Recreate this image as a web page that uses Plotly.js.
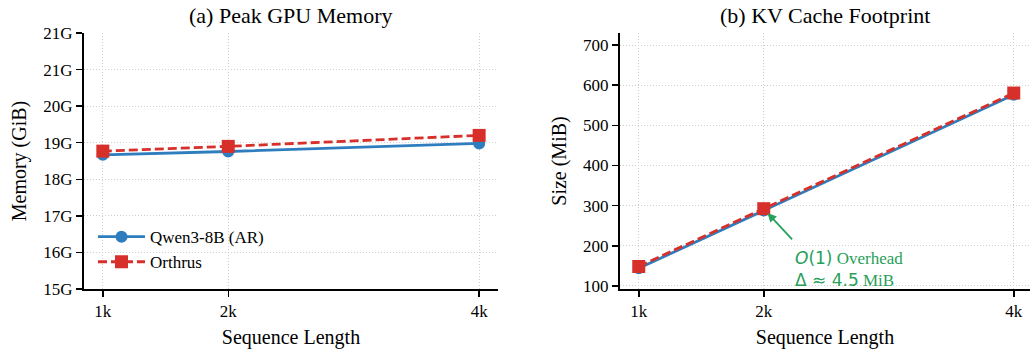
<!DOCTYPE html>
<html>
<head>
<meta charset="utf-8">
<script src="https://cdn.plot.ly/plotly-3.0.1.min.js"></script>
<style>html,body{margin:0;padding:0;background:#fff;}#chart{width:1030px;height:356px;}</style>
</head>
<body>
<div id="chart"></div>
<script>
// ---- data ----
const seqLen = [1, 2, 4];
const seqLabels = ["1k", "2k", "4k"];
const memQwen = [18.67, 18.76, 18.98];
const memOrthrus = [18.77, 18.90, 19.20];
const kvQwen = [144, 288, 576];
const kvOrthrus = [148.5, 292.5, 580.5];
const memTickVals = [15, 16, 17, 18, 19, 20, 21, 22];
const memTickText = ["15G", "16G", "17G", "18G", "19G", "20G", "21G", "21G"];
const kvTickVals = [100, 200, 300, 400, 500, 600, 700];
const seriesNames = ["Qwen3-8B (AR)", "Orthrus"];

const BLUE = "#2e7ebf", RED = "#d7302a", GREEN = "#27a05a";
const serif = "Liberation Serif, Times New Roman, serif";

function tr(x, y, name, color, sym, dash, xa, ya, show) {
  return {
    x: x, y: y, name: name, type: "scatter", mode: "lines+markers",
    line: {color: color, width: 2.8, dash: dash},
    marker: {color: color, symbol: sym, size: sym === "square" ? 13 : 12, line: {width: 0}},
    xaxis: xa, yaxis: ya, showlegend: show
  };
}

const data = [
  tr(seqLen, memQwen, seriesNames[0], BLUE, "circle", "solid", "x", "y", true),
  tr(seqLen, memOrthrus, seriesNames[1], RED, "square", "9px,4px", "x", "y", true),
  tr(seqLen, kvQwen, seriesNames[0], BLUE, "circle", "solid", "x2", "y2", false),
  tr(seqLen, kvOrthrus, seriesNames[1], RED, "square", "9px,4px", "x2", "y2", false)
];

const axFont = {family: serif, size: 17, color: "#000"};
const GRID = "#cfcfcf";
const baseX = {
  tickvals: seqLen, ticktext: seqLabels, tickfont: axFont,
  ticks: "outside", ticklen: 6, tickwidth: 1.5, tickcolor: "#000",
  showline: true, linecolor: "#000", linewidth: 2,
  showgrid: true, gridcolor: GRID, griddash: "1px,2px", gridwidth: 1,
  zeroline: false, fixedrange: true,
  title: {text: "Sequence Length", font: {family: serif, size: 20, color: "#000"}, standoff: 10}
};
const baseY = {
  tickfont: axFont,
  ticks: "outside", ticklen: 6, tickwidth: 1.5, tickcolor: "#000",
  showline: true, linecolor: "#000", linewidth: 2,
  showgrid: true, gridcolor: GRID, griddash: "1px,2px", gridwidth: 1,
  zeroline: false, fixedrange: true
};

const layout = {
  width: 1030, height: 356,
  margin: {l: 84, r: 0, t: 33, b: 67},
  paper_bgcolor: "#fff", plot_bgcolor: "#fff",
  showlegend: true,
  legend: {
    x: 0.0095, y: 0.273, xanchor: "left", yanchor: "top",
    font: {family: serif, size: 17, color: "#000"},
    bgcolor: "rgba(0,0,0,0)", tracegroupgap: 0, itemwidth: 47
  },
  xaxis: Object.assign({}, baseX, {domain: [0, 0.4376], range: [0.85, 4.15], anchor: "y"}),
  yaxis: Object.assign({}, baseY, {
    domain: [0, 1], range: [15, 22], tickvals: memTickVals, ticktext: memTickText, anchor: "x",
    title: {text: "Memory (GiB)", font: {family: serif, size: 20, color: "#000"}, standoff: 11}
  }),
  xaxis2: Object.assign({}, baseX, {domain: [0.5666, 1], range: [0.85, 4.13], anchor: "y2"}),
  yaxis2: Object.assign({}, baseY, {
    domain: [0, 1], range: [92.5, 730], tickvals: kvTickVals, anchor: "x2",
    title: {text: "Size (MiB)", font: {family: serif, size: 20, color: "#000"}, standoff: 11}
  }),
  annotations: [
    {text: "(a) Peak GPU Memory", xref: "x domain", yref: "paper", x: 0.5, y: 1, yshift: 18,
     xanchor: "center", yanchor: "middle", showarrow: false,
     font: {family: serif, size: 22, color: "#000"}},
    {text: "(b) KV Cache Footprint", xref: "x2 domain", yref: "paper", x: 0.5, y: 1, yshift: 18,
     xanchor: "center", yanchor: "middle", showarrow: false,
     font: {family: serif, size: 22, color: "#000"}},
    {text: "", xref: "x2", yref: "y2", x: 2.03, y: 282, ax: 26, ay: 28,
     showarrow: true, arrowhead: 2, arrowsize: 1, arrowwidth: 1.8, arrowcolor: GREEN, standoff: 0},
    {text: "<span style='font-family:DejaVu Sans'><i>O</i>(1)</span> Overhead<br><span style='font-family:DejaVu Sans'>Δ ≈ 4.5</span> MiB",
     xref: "x2", yref: "y2", x: 2.235, y: 200, xanchor: "left", yanchor: "top", align: "left",
     showarrow: false, font: {family: serif, size: 17, color: GREEN}}
  ]
};

Plotly.newPlot("chart", data, layout, {displayModeBar: false, staticPlot: true});
</script>
</body>
</html>
